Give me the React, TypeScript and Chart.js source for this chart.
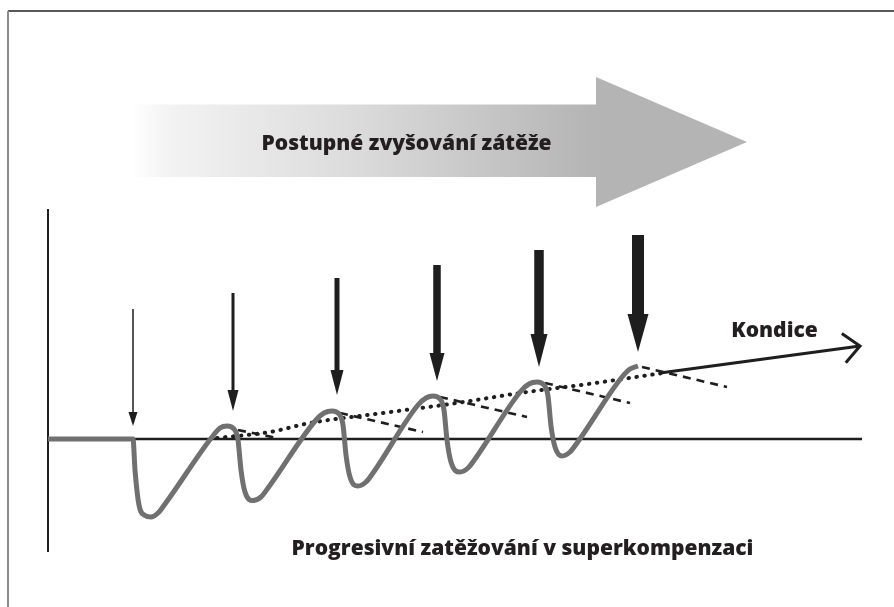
import { useEffect, useRef } from 'react';
import { Chart, registerables } from 'chart.js';

Chart.register(...registerables);

// Time (x) and fitness level (y) of the supercompensation curve
const curveT = [0, 8.5, 8.7, 9.1, 9.7, 10.3, 11.0, 11.7, 16.4, 17.2, 17.9, 18.6, 19.0, 19.3, 19.7, 20.5, 21.3, 22.0, 26.8, 27.6, 28.4, 29.1, 29.5, 29.8, 30.2, 31.0, 31.8, 32.5, 37.0, 37.8, 38.5, 39.2, 39.6, 39.9, 40.3, 41.2, 42.0, 42.7, 47.3, 48.1, 48.9, 49.6, 50.0, 50.3, 50.7, 51.4, 52.2, 52.9, 57.4, 58.2, 59.0];
const curveLevel = [0, 0, -3.1, -6.6, -7.65, -7.8, -7.4, -6.5, 0.2, 1.1, 1.3, 1.0, -0.1, -3.1, -5.3, -6.15, -5.8, -4.9, 1.9, 2.6, 2.8, 2.5, 1.4, -1.6, -3.8, -4.7, -4.3, -3.4, 3.4, 4.1, 4.3, 4.0, 2.9, -0.1, -2.3, -3.3, -2.9, -2.0, 4.8, 5.5, 5.7, 5.4, 4.3, 1.3, -0.8, -1.7, -1.3, -0.4, 6.2, 7.0, 7.3];

// Decay (dashed) lines after each peak
const decayStartT = [19.0, 29.2, 39.2, 49.7, 59.4];
const decayStartLevel = [0.9, 2.6, 4.2, 5.6, 7.2];
const decayEndT = [22.9, 37.5, 47.9, 58.2, 67.9];
const decayEndLevel = [0.1, 0.7, 2.2, 3.6, 5.2];

// Dotted trend of rising fitness
const trendT = [16.9, 22.2, 26.2, 33.5, 40.9, 47.2, 54.0, 61.5];
const trendLevel = [0.1, 0.7, 1.6, 2.6, 3.6, 4.6, 5.5, 6.6];

// "Kondice" arrow
const kondiceT = [61.2, 81.2];
const kondiceLevel = [6.6, 9.3];

// Training loads (vertical arrows): position, top, tip, relative load
const loadT = [8.5, 18.5, 28.9, 38.9, 49.1, 59.0];
const loadTop = [13.0, 14.6, 16.1, 17.4, 18.9, 20.4];
const loadTip = [1.3, 2.8, 4.4, 5.8, 7.2, 8.7];
const loadShaft = [1.5, 3, 5, 7.5, 9.5, 12];
const loadHeadW = [9, 11, 13, 15, 17, 21];
const loadHeadL = [14, 21, 25, 28, 33, 38];

const X_MIN = 0, X_MAX = 81.4, Y_MIN = -11.3, Y_MAX = 23;

const FONT = '800 21px "Open Sans", "DejaVu Sans", sans-serif';
const INK = '#1e1e1e';

const decorPlugin = {
  id: 'decor',
  beforeDatasetsDraw(chart: any) {
    const ctx = chart.ctx as CanvasRenderingContext2D;
    const xs = chart.scales.x, ys = chart.scales.y;
    const W = chart.width, H = chart.height;
    ctx.save();
    // frame
    ctx.strokeStyle = '#222';
    ctx.lineWidth = 1.5;
    ctx.beginPath();
    ctx.moveTo(8, 11);
    ctx.lineTo(W, 11);
    ctx.stroke();
    ctx.strokeStyle = '#8a8a8a';
    ctx.lineWidth = 2;
    ctx.beginPath();
    ctx.moveTo(8, 11);
    ctx.lineTo(8, H);
    ctx.stroke();

    // big gradient arrow
    const x0 = xs.getPixelForValue(8.3);
    const x1 = xs.getPixelForValue(54.8);
    const tipX = xs.getPixelForValue(69.9);
    const sTop = ys.getPixelForValue(33.45);
    const sBot = ys.getPixelForValue(26.2);
    const hTop = ys.getPixelForValue(36.2);
    const hBot = ys.getPixelForValue(23.2);
    const tipY = ys.getPixelForValue(29.7);
    const g = ctx.createLinearGradient(x0, 0, x1, 0);
    g.addColorStop(0, 'rgba(255,255,255,1)');
    g.addColorStop(0.08, '#f3f3f3');
    g.addColorStop(0.5, '#dadada');
    g.addColorStop(1, '#b4b4b4');
    ctx.fillStyle = g;
    ctx.fillRect(x0, sTop, x1 - x0 + 1, sBot - sTop);
    ctx.fillStyle = '#b4b4b4';
    ctx.beginPath();
    ctx.moveTo(x1, hTop);
    ctx.lineTo(tipX, tipY);
    ctx.lineTo(x1, hBot);
    ctx.closePath();
    ctx.fill();
    ctx.restore();
  },
  afterDatasetsDraw(chart: any) {
    const ctx = chart.ctx as CanvasRenderingContext2D;
    const xs = chart.scales.x, ys = chart.scales.y;
    ctx.save();
    ctx.fillStyle = INK;
    for (let i = 0; i < loadT.length; i++) {
      const cx = xs.getPixelForValue(loadT[i]);
      const top = ys.getPixelForValue(loadTop[i]);
      const tip = ys.getPixelForValue(loadTip[i]);
      const w = loadShaft[i], hw = loadHeadW[i], hl = loadHeadL[i];
      ctx.fillRect(cx - w / 2, top, w, tip - hl - top + 1);
      ctx.beginPath();
      ctx.moveTo(cx - hw / 2, tip - hl);
      ctx.lineTo(cx + hw / 2, tip - hl);
      ctx.lineTo(cx, tip);
      ctx.closePath();
      ctx.fill();
    }
    // Kondice arrow head
    const ax = xs.getPixelForValue(kondiceT[0]), ay = ys.getPixelForValue(kondiceLevel[0]);
    const bx = xs.getPixelForValue(kondiceT[1]), by = ys.getPixelForValue(kondiceLevel[1]);
    const ang = Math.atan2(by - ay, bx - ax);
    const len = 22, spread = (42 * Math.PI) / 180;
    ctx.strokeStyle = INK;
    ctx.lineWidth = 3;
    ctx.lineCap = 'butt';
    ctx.lineJoin = 'miter';
    ctx.beginPath();
    ctx.moveTo(bx - len * Math.cos(ang - spread), by - len * Math.sin(ang - spread));
    ctx.lineTo(bx, by);
    ctx.lineTo(bx - len * Math.cos(ang + spread), by - len * Math.sin(ang + spread));
    ctx.stroke();

    // texts
    ctx.font = FONT;
    ctx.fillStyle = '#231f20';
    ctx.textAlign = 'center';
    ctx.textBaseline = 'middle';
    ctx.fillText('Postupné zvyšování zátěže', xs.getPixelForValue(35.85), ys.getPixelForValue(29.5));
    ctx.fillText('Kondice', xs.getPixelForValue(72.65), ys.getPixelForValue(10.8));
    ctx.fillText('Progresivní zatěžování v superkompenzaci', xs.getPixelForValue(47.45), ys.getPixelForValue(-11.0));
    ctx.restore();
  },
};

export default function App() {
  const ref = useRef<HTMLCanvasElement>(null);
  useEffect(() => {
    const curve = curveT.map((t, i) => ({ x: t, y: curveLevel[i] }));
    const trend = trendT.map((t, i) => ({ x: t, y: trendLevel[i] }));
    const decays = decayStartT.map((t, i) => ({
      type: 'line' as const,
      data: [{ x: t, y: decayStartLevel[i] }, { x: decayEndT[i], y: decayEndLevel[i] }],
      borderColor: INK,
      borderWidth: 2.6,
      borderDash: [8, 6],
      pointRadius: 0,
      clip: false as any,
      order: 3,
    }));
    const chart = new Chart(ref.current!, {
      type: 'line',
      data: {
        datasets: [
          {
            data: curve,
            borderColor: '#707070',
            borderWidth: 5,
            cubicInterpolationMode: 'monotone',
            borderJoinStyle: 'round',
            pointRadius: 0,
            clip: false as any,
            order: 0,
          },
          {
            data: trend,
            borderColor: INK,
            borderWidth: 4,
            borderDash: [0.5, 7.5],
            borderCapStyle: 'round',
            cubicInterpolationMode: 'monotone',
            pointRadius: 0,
            clip: false as any,
            order: 2,
          },
          ...decays,
          {
            data: kondiceT.map((t, i) => ({ x: t, y: kondiceLevel[i] })),
            borderColor: INK,
            borderWidth: 3.2,
            pointRadius: 0,
            clip: false as any,
            order: 1,
          },
          {
            data: [{ x: X_MIN, y: 0 }, { x: X_MAX, y: 0 }],
            borderColor: INK,
            borderWidth: 2.5,
            pointRadius: 0,
            clip: false as any,
            order: 6,
          },
          {
            data: [{ x: X_MIN, y: Y_MIN }, { x: X_MIN, y: Y_MAX }],
            borderColor: INK,
            borderWidth: 2,
            pointRadius: 0,
            clip: false as any,
            order: 6,
          },
        ] as any,
      },
      options: {
        responsive: false,
        animation: false,
        events: [],
        layout: { padding: { left: 48, right: 32, top: 209, bottom: 55 } },
        scales: {
          x: { type: 'linear', display: false, min: X_MIN, max: X_MAX },
          y: { type: 'linear', display: false, min: Y_MIN, max: Y_MAX },
        },
        plugins: { legend: { display: false }, tooltip: { enabled: false } },
        elements: { point: { radius: 0 }, line: { tension: 0 } },
      },
      plugins: [decorPlugin],
    });
    return () => chart.destroy();
  }, []);
  return (
    <div style={{ position: 'fixed', left: 0, top: 0, width: 894, height: 607, background: '#fff' }}>
      <canvas ref={ref} width={894} height={607} style={{ display: 'block' }} />
    </div>
  );
}
